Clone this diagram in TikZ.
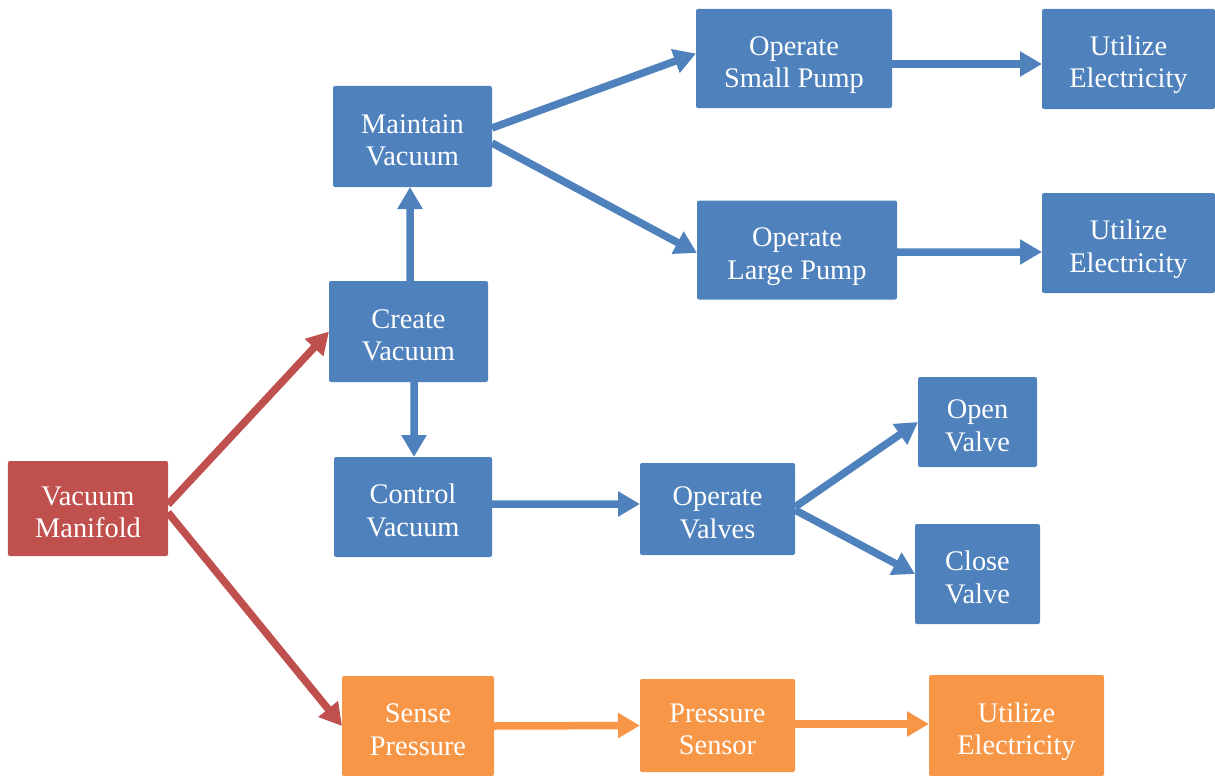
\documentclass[tikz,border=0pt]{standalone}
\usepackage{fontspec}
\setmainfont{Liberation Serif}
\usetikzlibrary{arrows.meta}
\definecolor{boxblue}{HTML}{4F81BD}
\definecolor{boxred}{HTML}{C0504D}
\definecolor{boxorange}{HTML}{F79646}
\tikzset{
  box/.style={rectangle, rounded corners=2bp, text=white, align=center,
    inner sep=0pt, outer sep=0pt, font=\fontsize{28.5}{32.5}\selectfont,
    text height=58bp, text depth=0pt},
  flow/.style={line width=7.5bp, -{Triangle[length=22bp,width=24bp]}}
}
\begin{document}
\begin{tikzpicture}[x=1bp, y=-1bp]
  \useasboundingbox (0,0) rectangle (1215,776);
  % red root
  \node[box, fill=boxred, minimum width=160bp, minimum height=95bp] (vm) at (88,508.5) {Vacuum\\Manifold};
  % blue branch
  \node[box, fill=boxblue, minimum width=159bp, minimum height=101bp] (cv) at (408.5,331.5) {Create\\Vacuum};
  \node[box, fill=boxblue, minimum width=159bp, minimum height=101bp] (mv) at (412.5,136.5) {Maintain\\Vacuum};
  \node[box, fill=boxblue, minimum width=158bp, minimum height=100bp] (ctv) at (413,507) {Control\\Vacuum};
  \node[box, fill=boxblue, minimum width=196bp, minimum height=99bp] (osp) at (794,58.5) {Operate\\Small Pump};
  \node[box, fill=boxblue, minimum width=200bp, minimum height=99bp] (olp) at (797,250) {Operate\\Large Pump};
  \node[box, fill=boxblue, minimum width=173bp, minimum height=100bp] (ue1) at (1128.5,59) {Utilize\\Electricity};
  \node[box, fill=boxblue, minimum width=173bp, minimum height=100bp] (ue2) at (1128.5,243) {Utilize\\Electricity};
  \node[box, fill=boxblue, minimum width=155bp, minimum height=92bp] (ov) at (717.5,509) {Operate\\Valves};
  \node[box, fill=boxblue, minimum width=119bp, minimum height=90bp] (opv) at (977.5,422) {Open\\Valve};
  \node[box, fill=boxblue, minimum width=125bp, minimum height=100bp] (clv) at (977.5,574) {Close\\Valve};
  % orange branch
  \node[box, fill=boxorange, minimum width=152bp, minimum height=100bp] (sp) at (418,726) {Sense\\Pressure};
  \node[box, fill=boxorange, minimum width=155bp, minimum height=93bp] (ps) at (717.5,725.5) {Pressure\\Sensor};
  \node[box, fill=boxorange, minimum width=175bp, minimum height=101bp] (ue3) at (1016.5,725.5) {Utilize\\Electricity};

  \draw[flow, boxred] ([yshift=4bp]vm.east) -- (cv.west);
  \draw[flow, boxred] ([yshift=-4bp]vm.east) -- (sp.west);
  \draw[flow, boxblue] ([xshift=1.5bp]cv.north) -- ([xshift=-2.5bp]mv.south);
  \draw[flow, boxblue] ([xshift=5.5bp]cv.south) -- ([xshift=1bp]ctv.north);
  \draw[flow, boxblue] ([yshift=8.5bp]mv.east) -- ([yshift=5bp]osp.west);
  \draw[flow, boxblue] ([yshift=-6.5bp]mv.east) -- ([yshift=-3bp]olp.west);
  \draw[flow, boxblue] ([yshift=-5.5bp]osp.east) -- ([yshift=-5bp]ue1.west);
  \draw[flow, boxblue] ([yshift=-2bp]olp.east) -- ([yshift=-9bp]ue2.west);
  \draw[flow, boxblue] ([yshift=3bp]ctv.east) -- ([yshift=5bp]ov.west);
  \draw[flow, boxblue] ([yshift=2bp]ov.east) -- (opv.west);
  \draw[flow, boxblue] ([yshift=-1bp]ov.east) -- (clv.west);
  \draw[flow, boxorange] (sp.east) -- (ps.west);
  \draw[flow, boxorange] ([yshift=1.5bp]ps.east) -- ([yshift=1.5bp]ue3.west);
\end{tikzpicture}
\end{document}
